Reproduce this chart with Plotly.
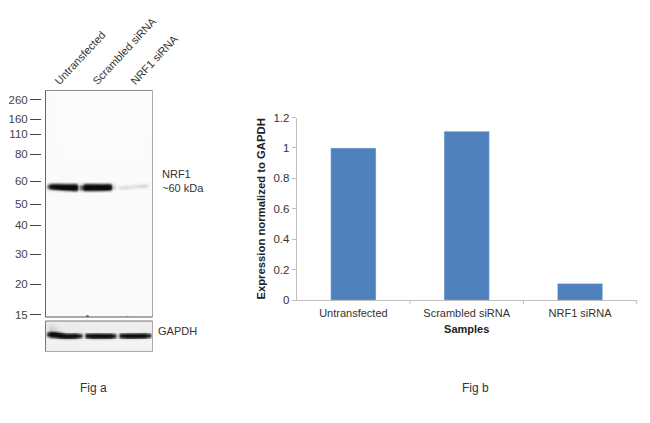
"""NRF1 knockdown figure: western blot panel (a) and normalized expression bars (b)."""

import plotly.graph_objects as go

FONT = "Liberation Sans"
TEXT_COLOR = "#333333"

# Fig b values
samples = ["Untransfected", "Scrambled siRNA", "NRF1 siRNA"]
expression = [1.0, 1.11, 0.11]
expression_ticks = [0, 0.2, 0.4, 0.6, 0.8, 1, 1.2]

# Fig a markers and lanes
marker_kda = ["260", "160", "110", "80", "60", "50", "40", "30", "20", "15"]
marker_rows = [99.5, 119, 134, 154, 181, 204, 225, 254, 284, 314.5]
lane_names = ["Untransfected", "Scrambled siRNA", "NRF1 siRNA"]
lane_label_cols = [55, 93, 131]

# specks sitting on the lower edge of the blot
speck_cols = [87, 127]
speck_rows = [316.5, 316.8]
speck_sizes = [4, 2]

# NRF1 blot grey levels, read row by row
nrf1_cols = [45, 47, 50, 55, 60, 65, 70, 73, 76, 78, 82, 84, 88, 95, 102, 107, 110, 112, 116, 120, 125, 130, 135, 140, 145, 148, 152]
nrf1_rows = [91, 181, 182.5, 184, 185, 186.5, 188, 189.5, 190.5, 192, 317]
nrf1_grey = [
    [250, 250, 251, 251, 252, 252, 252, 252, 252, 252, 252, 252, 252, 252, 252, 252, 252, 252, 252, 252, 252, 252, 252, 252, 252, 252, 250],
    [250, 250, 250, 250, 250, 250, 250, 250, 250, 250, 250, 250, 250, 250, 250, 250, 250, 250, 250, 250, 250, 250, 250, 250, 250, 250, 250],
    [250, 240, 205, 190, 200, 205, 210, 200, 215, 245, 235, 205, 200, 205, 210, 205, 220, 245, 250, 250, 250, 250, 250, 248, 246, 250, 250],
    [250, 190, 70, 50, 55, 60, 60, 55, 90, 220, 180, 70, 50, 55, 60, 50, 90, 225, 250, 248, 245, 245, 240, 232, 225, 245, 250],
    [250, 120, 20, 15, 15, 15, 15, 15, 30, 190, 90, 20, 15, 15, 15, 15, 25, 200, 248, 238, 230, 232, 225, 215, 210, 240, 250],
    [250, 120, 15, 10, 10, 10, 10, 10, 15, 170, 70, 10, 10, 10, 10, 10, 15, 190, 246, 225, 220, 225, 225, 220, 225, 245, 250],
    [250, 175, 60, 25, 12, 12, 12, 12, 15, 170, 70, 10, 10, 10, 10, 10, 20, 200, 248, 225, 225, 235, 238, 240, 245, 250, 250],
    [250, 225, 170, 110, 60, 40, 30, 25, 40, 190, 110, 25, 25, 30, 30, 30, 70, 225, 250, 238, 238, 245, 248, 250, 250, 250, 250],
    [250, 245, 235, 220, 200, 170, 140, 110, 130, 230, 190, 130, 120, 130, 140, 160, 190, 245, 250, 250, 250, 250, 250, 250, 250, 250, 250],
    [250, 250, 250, 250, 250, 250, 250, 250, 250, 250, 250, 250, 250, 250, 250, 250, 250, 250, 250, 250, 250, 250, 250, 250, 250, 250, 250],
    [250, 250, 250, 250, 250, 250, 250, 250, 250, 250, 250, 250, 250, 250, 250, 250, 250, 250, 250, 250, 250, 250, 250, 250, 250, 250, 250],
]

# GAPDH blot grey levels, read row by row
gapdh_cols = [45, 47, 50, 55, 60, 65, 70, 75, 80, 83, 86, 92, 98, 104, 110, 114, 117, 120, 126, 132, 138, 144, 149, 152]
gapdh_rows = [322, 330, 331.5, 333, 334.5, 336, 337.5, 339, 341, 351]
gapdh_grey = [
    [232, 236, 236, 236, 236, 236, 236, 236, 236, 238, 238, 238, 238, 238, 238, 238, 238, 238, 238, 238, 238, 238, 238, 238],
    [232, 225, 200, 215, 235, 236, 236, 236, 236, 238, 238, 238, 238, 238, 238, 238, 238, 238, 238, 238, 238, 238, 238, 238],
    [230, 150, 60, 80, 170, 225, 225, 225, 232, 236, 235, 235, 232, 235, 232, 236, 238, 235, 230, 230, 230, 225, 232, 238],
    [228, 70, 15, 15, 40, 110, 120, 100, 170, 232, 130, 110, 110, 125, 110, 180, 232, 130, 105, 105, 100, 90, 150, 236],
    [230, 60, 12, 12, 12, 20, 20, 15, 60, 220, 25, 15, 15, 15, 15, 60, 225, 30, 12, 12, 12, 12, 50, 236],
    [232, 140, 40, 20, 12, 12, 12, 12, 50, 225, 25, 12, 12, 12, 12, 50, 225, 30, 12, 12, 12, 12, 60, 236],
    [236, 225, 170, 130, 70, 50, 50, 70, 150, 235, 110, 60, 60, 60, 70, 130, 235, 120, 70, 75, 80, 90, 170, 238],
    [240, 240, 236, 230, 215, 205, 205, 215, 235, 242, 230, 215, 210, 215, 220, 235, 242, 232, 225, 225, 230, 232, 240, 242],
    [240, 242, 242, 242, 242, 242, 242, 242, 242, 244, 244, 244, 244, 244, 244, 244, 244, 244, 244, 244, 244, 244, 244, 244],
    [236, 240, 240, 240, 240, 240, 240, 240, 240, 240, 240, 240, 240, 240, 240, 240, 240, 240, 240, 240, 240, 240, 240, 240],
]

GREY_SCALE = [[0, "#000000"], [1, "#ffffff"]]

# the page body keeps its 8px margin, so the figure starts at (8, 8)
PAGE_MARGIN = 8
W, H = 650 - PAGE_MARGIN, 423 - 2 * PAGE_MARGIN


def page_x(px):
    return (px - PAGE_MARGIN) / W


def page_y(py):
    return 1 - (py - PAGE_MARGIN) / H


def blot_trace(cols, rows, grey, xaxis, yaxis):
    return go.Heatmap(
        x=cols,
        y=rows,
        z=grey,
        xaxis=xaxis,
        yaxis=yaxis,
        zmin=0,
        zmax=255,
        zsmooth="best",
        colorscale=GREY_SCALE,
        showscale=False,
        hoverinfo="skip",
    )


def panel_edge(xref, yref, x0, y0, x1, y1, color):
    return {
        "type": "line",
        "xref": xref,
        "yref": yref,
        "x0": x0,
        "y0": y0,
        "x1": x1,
        "y1": y1,
        "line": {"color": color, "width": 1},
    }


def page_text(text, px, py, size, xanchor="center"):
    return {
        "text": text,
        "x": page_x(px),
        "y": page_y(py),
        "xref": "paper",
        "yref": "paper",
        "xanchor": xanchor,
        "yanchor": "middle",
        "align": "left",
        "showarrow": False,
        "font": {"size": size, "color": TEXT_COLOR},
    }


fig = go.Figure()
fig.add_trace(blot_trace(nrf1_cols, nrf1_rows, nrf1_grey, "x", "y"))
fig.add_trace(
    go.Scatter(
        x=speck_cols,
        y=speck_rows,
        mode="markers",
        marker={"size": speck_sizes, "color": "#333333"},
        xaxis="x",
        yaxis="y",
        showlegend=False,
        hoverinfo="skip",
    )
)
fig.add_trace(blot_trace(gapdh_cols, gapdh_rows, gapdh_grey, "x2", "y2"))
fig.add_trace(
    go.Bar(
        x=samples,
        y=expression,
        xaxis="x3",
        yaxis="y3",
        width=0.4,
        marker={"color": "#4f81bd"},
        showlegend=False,
    )
)

fig.update_layout(
    width=W,
    height=H,
    margin={"l": 0, "r": 0, "t": 0, "b": 0},
    autosize=False,
    paper_bgcolor="white",
    plot_bgcolor="white",
    font={"family": FONT, "size": 11, "color": TEXT_COLOR},
    showlegend=False,
    # western blot, main panel
    xaxis={
        "domain": [page_x(45.5), page_x(152.5)],
        "range": [45, 152],
        "anchor": "y",
        "side": "top",
        "automargin": False,
        "tickmode": "array",
        "tickvals": lane_label_cols,
        "ticktext": lane_names,
        "tickangle": -47,
        "ticks": "",
        "showgrid": False,
        "zeroline": False,
        "tickfont": {"size": 11, "color": TEXT_COLOR},
    },
    yaxis={
        "domain": [page_y(317), page_y(90.5)],
        "range": [317, 90.5],
        "anchor": "free",
        "position": page_x(41),
        "automargin": False,
        "tickmode": "array",
        "tickvals": marker_rows,
        "ticktext": marker_kda,
        "ticks": "outside",
        "ticklen": 11,
        "tickcolor": "#444444",
        "tickwidth": 1,
        "showgrid": False,
        "zeroline": False,
        "showline": False,
        "tickfont": {"size": 11.5, "color": "#444444"},
    },
    # western blot, GAPDH panel
    xaxis2={
        "domain": [page_x(45.5), page_x(152.5)],
        "range": [45, 152],
        "anchor": "y2",
        "automargin": False,
        "visible": False,
    },
    yaxis2={
        "domain": [page_y(351.5), page_y(321)],
        "range": [351.5, 321],
        "anchor": "x2",
        "automargin": False,
        "visible": False,
    },
    # expression bars
    xaxis3={
        "domain": [page_x(296.7), page_x(636.7)],
        "anchor": "y3",
        "automargin": False,
        "showgrid": False,
        "zeroline": False,
        "showline": True,
        "linecolor": "#bfbfbf",
        "ticks": "",
        "ticklabelstandoff": 2,
        "tickfont": {"size": 11, "color": TEXT_COLOR},
        "title": {
            "text": "<b>Samples</b>",
            "font": {"size": 11, "color": "#222222"},
            "standoff": 7,
        },
    },
    yaxis3={
        "domain": [page_y(300.3), page_y(117.5)],
        "range": [0, 1.2],
        "anchor": "x3",
        "automargin": False,
        "tickmode": "array",
        "tickvals": expression_ticks,
        "ticktext": ["0", "0.2", "0.4", "0.6", "0.8", "1", "1.2"],
        "ticks": "outside",
        "ticklen": 4,
        "tickcolor": "#bfbfbf",
        "showgrid": False,
        "zeroline": False,
        "showline": True,
        "linecolor": "#bfbfbf",
        "tickfont": {"size": 11.5, "color": TEXT_COLOR},
        "title": {
            "text": "<b>Expression normalized to GAPDH</b>",
            "font": {"size": 11.3, "color": "#222222"},
            "standoff": 5,
        },
    },
    shapes=[
        panel_edge("x domain", "y domain", 0, 0, 0, 1, "#666666"),
        panel_edge("x domain", "y domain", 0, 1, 1, 1, "#8a8a8a"),
        panel_edge("x domain", "y domain", 1, 0, 1, 1, "#aaaaaa"),
        panel_edge("x domain", "y domain", 0, 0, 1, 0, "#555555"),
        panel_edge("x2 domain", "y2 domain", 0, 0, 0, 1, "#777777"),
        panel_edge("x2 domain", "y2 domain", 0, 1, 1, 1, "#777777"),
        panel_edge("x2 domain", "y2 domain", 1, 0, 1, 1, "#aaaaaa"),
        panel_edge("x2 domain", "y2 domain", 0, 0, 1, 0, "#aaaaaa"),
        panel_edge("x3 domain", "y3 domain", 1 / 3, 0, 1 / 3, -0.022, "#bfbfbf"),
        panel_edge("x3 domain", "y3 domain", 2 / 3, 0, 2 / 3, -0.022, "#bfbfbf"),
        panel_edge("x3 domain", "y3 domain", 1, 0, 1, -0.022, "#bfbfbf"),
    ],
    annotations=[
        page_text("NRF1<br>~60 kDa", 160, 181.5, 11, "left"),
        page_text("GAPDH", 156, 331, 11, "left"),
        page_text("Fig a", 93.5, 388, 12),
        page_text("Fig b", 475, 388, 12),
    ],
)

fig.write_html("out.html")
